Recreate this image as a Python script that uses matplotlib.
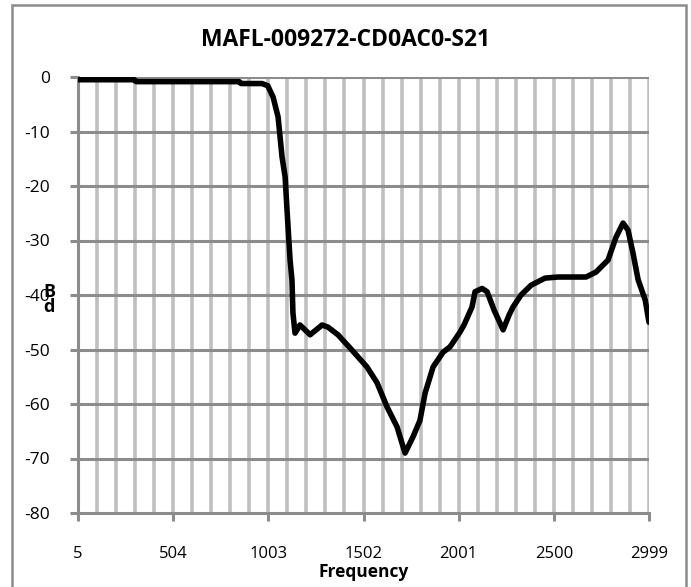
import matplotlib
matplotlib.use("Agg")
import matplotlib.pyplot as plt
from matplotlib.patches import Rectangle
import numpy as np

# S21 trace (MHz, dB)
freq_mhz = [5, 300, 310, 850, 860, 970, 1000, 1028, 1054, 1075, 1091, 1101,
            1117, 1127, 1132, 1143, 1169, 1222, 1285, 1316, 1368, 1431, 1520,
            1573, 1625, 1678, 1704, 1720, 1762, 1798, 1825, 1867, 1919, 1956,
            2008, 2029, 2071, 2087, 2124, 2150, 2187, 2234, 2265, 2286, 2328,
            2381, 2454, 2522, 2669, 2721, 2784, 2826, 2863, 2889, 2915, 2942,
            2979, 2999]
s21_db = [-0.5, -0.5, -0.85, -0.85, -1.2, -1.2, -1.6, -3.7, -7.3, -14.7,
          -18.3, -24.4, -33.6, -37.3, -43.3, -47.0, -45.5, -47.3, -45.5, -45.9,
          -47.3, -49.7, -53.2, -56.1, -60.5, -64.2, -67.2, -69.0, -66.0, -63.0,
          -58.0, -53.2, -50.5, -49.5, -46.8, -45.5, -42.2, -39.4, -38.8, -39.4,
          -42.8, -46.4, -43.7, -42.2, -40.0, -38.2, -36.9, -36.7, -36.7, -35.8,
          -33.6, -29.4, -26.8, -28.1, -32.3, -37.2, -40.9, -45.0]

x_ticks = [5, 504, 1003, 1502, 2001, 2500, 2999]
y_ticks = [-80, -70, -60, -50, -40, -30, -20, -10, 0]

grid_dark = '#8c8c8c'
grid_light = '#bfbfbf'
font = ['Open Sans', 'DejaVu Sans']

fig = plt.figure(figsize=(6.91, 5.87), dpi=100)
ax = fig.add_axes([78 / 691, 1 - 513 / 587, (649 - 78) / 691, (513 - 77) / 587])

# vertical grid every fifth of a major step
minor_x = np.linspace(5, 2999, 31)
for xv in minor_x[1:]:
    ax.axvline(xv, color=grid_light, lw=2.6, zorder=1)
for yv in y_ticks[1:]:
    ax.axhline(yv, color=grid_dark, lw=2.2, zorder=1.5)

ax.plot(freq_mhz, s21_db, color='black', lw=4, solid_joinstyle='round',
        solid_capstyle='round', zorder=3)

ax.set_xlim(5, 2999)
ax.set_ylim(-80, 0)
ax.set_xticks(x_ticks)
ax.set_xticklabels([str(v) for v in x_ticks], family=font, fontsize=12)
ax.set_yticks(y_ticks)
ax.set_yticklabels([str(v) for v in y_ticks], family=font, fontsize=12.5)
ax.tick_params(axis='x', length=6, width=2.2, color=grid_dark, pad=18)
ax.tick_params(axis='y', length=6, width=2.2, color=grid_dark, pad=14)

for side in ['top', 'right']:
    ax.spines[side].set_visible(False)
for side in ['left', 'bottom']:
    ax.spines[side].set_color(grid_dark)
    ax.spines[side].set_linewidth(2.2)
    ax.spines[side].set_zorder(2)

fig.text(363.5 / 691, 1 - 572 / 587, 'Frequency', ha='center', va='center',
         family=font, fontsize=12.5, fontweight='bold')

fig.text(346 / 691, 1 - 40 / 587, 'MAFL-009272-CD0AC0-S21', ha='center', va='center',
         family=font, fontsize=16.5, fontweight='bold')

# stacked "dB" axis title as in the source
fig.text(49 / 691, 1 - 297 / 587, 'B', ha='center', va='baseline',
         family=font, fontsize=13, fontweight='bold')
fig.text(49 / 691, 1 - 312 / 587, 'd', ha='center', va='baseline',
         family=font, fontsize=13, fontweight='bold')

fig.patches.append(Rectangle((12 / 691, -0.05), (686 - 12) / 691, 1.05 - 5 / 587,
                             transform=fig.transFigure, fill=False,
                             edgecolor=grid_dark, lw=1.8))

fig.savefig('out.png', dpi=100)
